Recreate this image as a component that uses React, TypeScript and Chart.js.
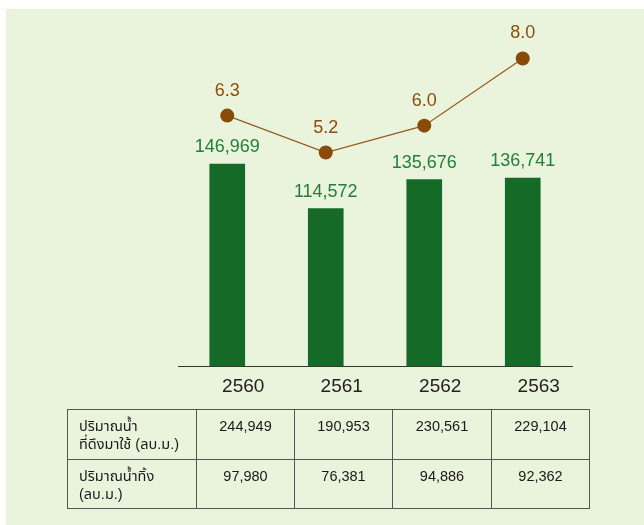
import React, { useEffect, useRef } from "react";
import { Chart, registerables } from "chart.js";

Chart.register(...registerables);

const years = ["2560", "2561", "2562", "2563"];
const barValues = [146969, 114572, 135676, 136741];
const lineValues = [6.3, 5.2, 6.0, 8.0];
const withdrawnValues = [244949, 190953, 230561, 229104];
const dischargedValues = [97980, 76381, 94886, 92362];
const rowLabels = [
  ["ปริมาณน้ำ", "ที่ดึงมาใช้ (ลบ.ม.)"],
  ["ปริมาณน้ำทิ้ง", "(ลบ.ม.)"],
];

const FONT = '"Liberation Sans", Arial, Helvetica, "Noto Sans Thai", "Noto Sans", sans-serif';
const fmt = (v: number) => v.toLocaleString("en-US");

const valueLabelPlugin = {
  id: "valueLabels",
  afterDatasetsDraw(chart: any) {
    const ctx = chart.ctx;
    chart.data.datasets.forEach((ds: any, i: number) => {
      const meta = chart.getDatasetMeta(i);
      meta.data.forEach((el: any, j: number) => {
        const v = ds.data[j];
        ctx.save();
        ctx.textAlign = "center";
        ctx.textBaseline = "middle";
        if (ds.type === "bar") {
          ctx.fillStyle = "#22803A";
          ctx.font = `18px ${FONT}`;
          ctx.fillText(fmt(v), el.x, el.y - 17);
        } else {
          ctx.fillStyle = "#8E4C0C";
          ctx.font = `18px ${FONT}`;
          ctx.fillText(v.toFixed(1), el.x, el.y - 25);
        }
        ctx.restore();
      });
    });
  },
};

export default function App() {
  const ref = useRef<HTMLCanvasElement | null>(null);

  useEffect(() => {
    if (!ref.current) return;
    const chart = new Chart(ref.current, {
      type: "bar",
      data: {
        labels: years,
        datasets: [
          {
            type: "line",
            data: lineValues,
            yAxisID: "y1",
            borderColor: "#9A5A1E",
            borderWidth: 1.2,
            pointRadius: 7,
            pointHoverRadius: 7,
            pointBackgroundColor: "#8A4A08",
            pointBorderWidth: 0,
            tension: 0,
            order: 0,
          } as any,
          {
            type: "bar",
            data: barValues,
            yAxisID: "y",
            backgroundColor: "#146A26",
            barThickness: 35,
            order: 1,
          } as any,
        ],
      },
      options: {
        responsive: false,
        animation: false,
        devicePixelRatio: 1,
        layout: { padding: { left: 178, right: 72, top: 20, bottom: 3 } },
        plugins: { legend: { display: false }, tooltip: { enabled: false } },
        scales: {
          x: {
            grid: { display: false, drawTicks: false },
            border: { display: true, color: "#333", width: 1 },
            ticks: {
              color: "#222",
              font: { family: FONT, size: 19 },
              padding: 9,
              labelOffset: 16,
            },
          },
          y: {
            display: false,
            min: 0,
            max: 251700,
          },
          y1: {
            display: false,
            min: -1.155,
            max: 9.143,
          },
        },
      },
      plugins: [valueLabelPlugin],
    });
    return () => chart.destroy();
  }, []);

  const cellBorder = "1px solid #555";
  const colWidths = [129, 98, 98, 99, 98];

  return (
    <div style={{ position: "fixed", left: 0, top: 0, width: 644, height: 525, background: "#fff", overflow: "hidden", fontFamily: FONT }}>
      <div style={{ position: "absolute", left: 6, top: 9, right: 0, bottom: 0, background: "#EAF3DC" }} />
      <canvas ref={ref} width={644} height={410} style={{ position: "absolute", left: 0, top: 0, width: 644, height: 410 }} />
      <table
        style={{
          position: "absolute",
          left: 67,
          top: 409,
          borderCollapse: "collapse",
          tableLayout: "fixed",
          width: 522,
          fontSize: 14.5,
          color: "#1a1a1a",
          lineHeight: "18px",
        }}
      >
        <colgroup>
          {colWidths.map((w, i) => (
            <col key={i} style={{ width: w }} />
          ))}
        </colgroup>
        <tbody>
          {[withdrawnValues, dischargedValues].map((row, r) => (
            <tr key={r} style={{ height: r === 0 ? 50 : 49 }}>
              <td style={{ border: cellBorder, padding: "7px 0 0 11px", verticalAlign: "top" }}>
                {rowLabels[r].map((t, k) => (
                  <div key={k} style={{ whiteSpace: "nowrap" }}>{t}</div>
                ))}
              </td>
              {row.map((v, c) => (
                <td key={c} style={{ border: cellBorder, padding: "7px 0 0 0", verticalAlign: "top", textAlign: "center" }}>
                  {fmt(v)}
                </td>
              ))}
            </tr>
          ))}
        </tbody>
      </table>
    </div>
  );
}
